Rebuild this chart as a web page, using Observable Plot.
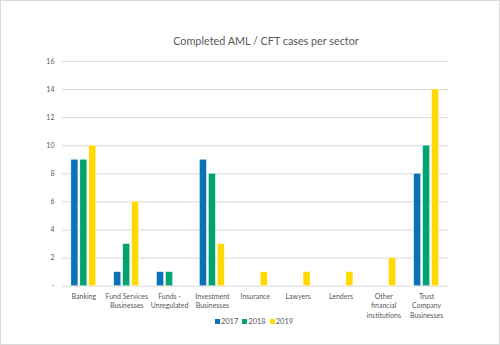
<!DOCTYPE html>
<html>
<head>
<meta charset="utf-8">
<script src="https://cdn.jsdelivr.net/npm/d3@7"></script>
<script src="https://cdn.jsdelivr.net/npm/@observablehq/plot@0.6"></script>
<style>
  html, body { margin: 0; padding: 0; background: #fff; }
  #chart {
    position: relative; width: 500px; height: 345px; box-sizing: border-box;
    border: 1.5px solid #d9d9d9; background: #fff; overflow: hidden;
    font-family: Lato, "Open Sans", sans-serif; color: #595959;
  }
  #title {
    position: absolute; left: 0; top: 32.5px; width: 530px; text-align: center;
    font-size: 10.8px; color: #595959;
  }
  #plot { position: absolute; left: -1.5px; top: -1.5px; }
  #legend {
    position: absolute; left: 0; top: 316px; width: 506px; text-align: center;
    font-size: 7.5px; color: #595959;
  }
  #legend span.item { margin: 0 2px; white-space: nowrap; }
  #legend span.sw { display: inline-block; width: 5px; height: 5px; margin-right: 1px; vertical-align: 0px; }
</style>
</head>
<body>
<div id="chart">
  <div id="title">Completed AML / CFT cases per sector</div>
  <div id="plot"></div>
  <div id="legend"></div>
</div>
<script>
const sectors = ["Banking", "Fund Services\nBusinesses", "Funds -\nUnregulated", "Investment\nBusinesses", "Insurance", "Lawyers", "Lenders", "Other\nfinancial\ninstitutions", "Trust\nCompany\nBusinesses"];
const years = ["2017", "2018", "2019"];
const values2017 = [9, 1, 1, 9, 0, 0, 0, 0, 8];
const values2018 = [9, 3, 1, 8, 0, 0, 0, 0, 10];
const values2019 = [10, 6, 0, 3, 1, 1, 1, 2, 14];
const yTicks = [0, 2, 4, 6, 8, 10, 12, 14, 16];
const colors = ["#0c72b6", "#00a371", "#ffd900"];

const series = [values2017, values2018, values2019];
const data = [];
sectors.forEach((s, i) => years.forEach((y, j) => {
  data.push({sector: s, year: y, value: series[j][i]});
}));

const plot = Plot.plot({
  width: 500,
  height: 345,
  marginTop: 61,
  marginBottom: 59,
  marginLeft: 62,
  marginRight: 52,
  style: {fontFamily: "Lato, 'Open Sans', sans-serif", fontSize: "7px", color: "#595959", background: "transparent"},
  fx: {domain: sectors, padding: 0, round: false, label: null},
  x: {domain: years, paddingInner: 0.22, paddingOuter: 1.0, round: false, axis: null},
  y: {domain: [0, 16], label: null},
  color: {domain: years, range: colors},
  marks: [
    Plot.ruleY(yTicks, {stroke: "#d9d9d9", strokeWidth: 1}),
    Plot.barY(data.filter(d => d.value > 0), {
      fx: "sector", x: "year", y: "value", fill: "year",
      stroke: "#fff", strokeWidth: 0.4
    }),
    Plot.axisY({ticks: yTicks, tickSize: 0, tickPadding: 8, label: null,
      tickFormat: d => d === 0 ? "-" : String(d), fill: "#595959", fontSize: 7}),
    Plot.axisFx({anchor: "bottom", tickSize: 0, tickPadding: 6, label: null,
      fill: "#595959", fontSize: 7, lineHeight: 1.35, textOverflow: null, lineWidth: 100})
  ]
});
document.getElementById("plot").appendChild(plot);

const legend = document.getElementById("legend");
years.forEach((y, j) => {
  const item = document.createElement("span");
  item.className = "item";
  const sw = document.createElement("span");
  sw.className = "sw";
  sw.style.background = colors[j];
  item.appendChild(sw);
  item.appendChild(document.createTextNode(y));
  legend.appendChild(item);
});
</script>
</body>
</html>
